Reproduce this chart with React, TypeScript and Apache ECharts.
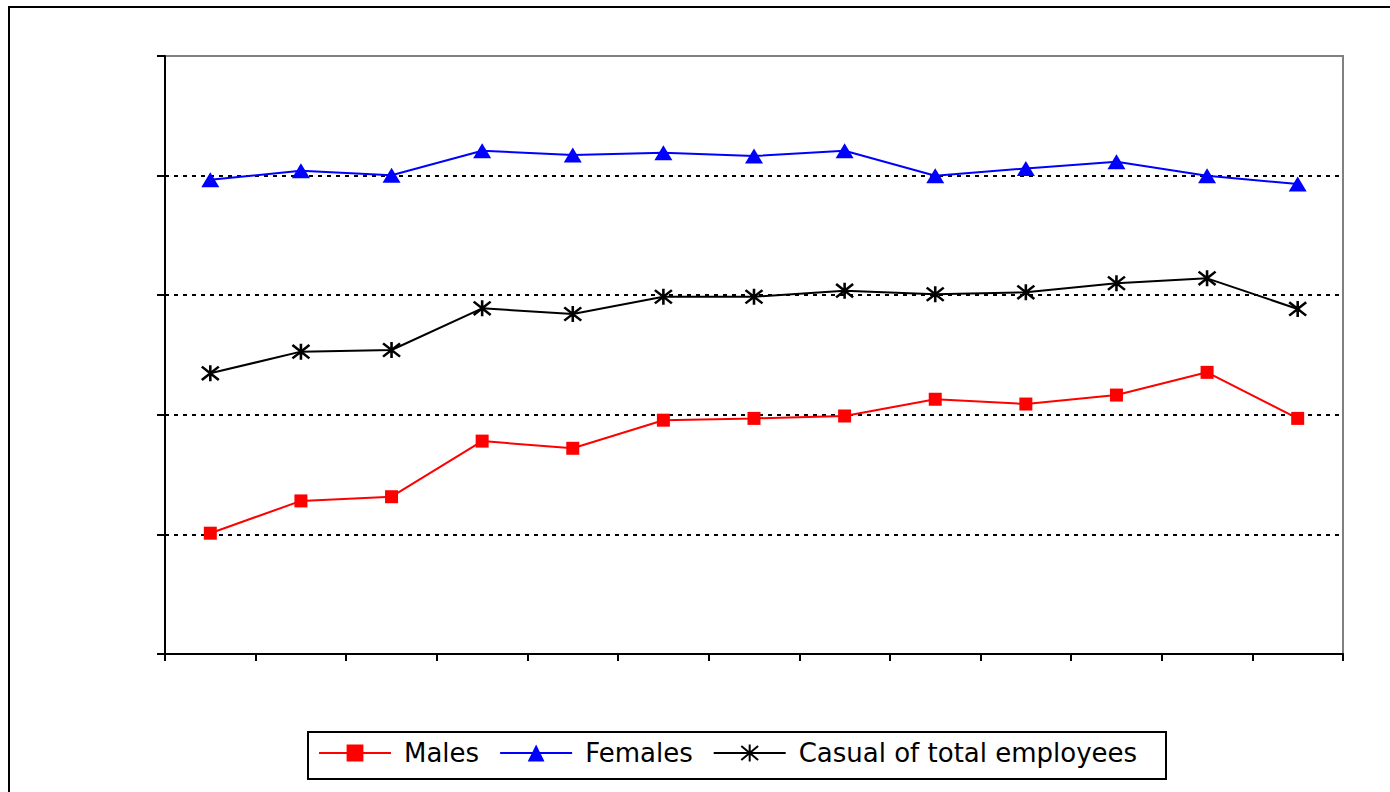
import React, { useEffect, useRef } from "react";
import * as echarts from "echarts";

const categories = ["1", "2", "3", "4", "5", "6", "7", "8", "9", "10", "11", "12", "13"];
const males = [10.1, 12.8, 13.15, 17.8, 17.2, 19.55, 19.7, 19.9, 21.3, 20.9, 21.65, 23.55, 19.7];
const females = [39.65, 40.4, 40.03, 42.08, 41.72, 41.92, 41.64, 42.08, 39.99, 40.6, 41.16, 39.99, 39.3];
const casual = [23.47, 25.28, 25.42, 28.9, 28.43, 29.87, 29.87, 30.38, 30.08, 30.24, 31.0, 31.41, 28.85];
const seriesNames = ["Males", "Females", "Casual of total employees"];

const asterisk = "path://M0,1L12,11M12,1L0,11M6,0L6,12";

export default function App() {
  const ref = useRef<HTMLDivElement>(null);
  useEffect(() => {
    if (!ref.current) return;
    const chart = echarts.init(ref.current, null, { renderer: "svg" });
    const font = "'DejaVu Sans', sans-serif";
    chart.setOption({
      animation: false,
      backgroundColor: "#ffffff",
      grid: {
        left: 165,
        right: 47,
        top: 56,
        height: 598,
        show: true,
        z: 0,
        borderColor: "#808080",
        borderWidth: 2,
        backgroundColor: "transparent",
      },
      xAxis: {
        type: "category",
        data: categories,
        boundaryGap: true,
        z: 3,
        axisLine: { lineStyle: { color: "#000", width: 2 } },
        axisTick: { show: true, length: 7, inside: false, alignWithLabel: false, lineStyle: { color: "#000", width: 2 } },
        axisLabel: { show: false },
        splitLine: { show: false },
      },
      yAxis: {
        type: "value",
        min: 0,
        max: 50,
        interval: 10,
        z: 3,
        axisLine: { show: true, lineStyle: { color: "#000", width: 2 } },
        axisTick: { show: true, length: 8, lineStyle: { color: "#000", width: 2 } },
        axisLabel: { show: false },
        splitLine: {
          show: true,
          lineStyle: {
            color: ["#000", "#000", "#000", "#000", "#000", "rgba(0,0,0,0)"],
            width: 2,
            type: [4, 5],
          },
        },
      },
      legend: {
        left: 318,
        top: 740,
        itemWidth: 72,
        itemHeight: 21,
        itemGap: 20,
        padding: 0,
        textStyle: { fontFamily: font, fontSize: 26, color: "#000", padding: [0, 0, 0, 8] },
        data: seriesNames,
      },
      graphic: [
        {
          type: "rect",
          shape: { x: 9, y: 7, width: 1400, height: 820 },
          style: { fill: "none", stroke: "#000", lineWidth: 2 },
          z: 100,
        },
        {
          type: "rect",
          shape: { x: 308, y: 732, width: 858, height: 47 },
          style: { fill: "none", stroke: "#000", lineWidth: 2 },
          z: 100,
        },
      ],
      series: [
        {
          name: seriesNames[0],
          type: "line",
          data: males,
          symbol: "rect",
          symbolSize: 13,
          z: 4,
          lineStyle: { color: "#ff0000", width: 2 },
          itemStyle: { color: "#ff0000" },
        },
        {
          name: seriesNames[1],
          type: "line",
          data: females,
          symbol: "triangle",
          symbolSize: [18, 15],
          z: 4,
          lineStyle: { color: "#0000ff", width: 2 },
          itemStyle: { color: "#0000ff" },
        },
        {
          name: seriesNames[2],
          type: "line",
          data: casual,
          symbol: asterisk,
          symbolSize: [17, 16],
          z: 4,
          lineStyle: { color: "#000", width: 2 },
          itemStyle: { color: "rgba(255,255,255,0)", borderColor: "#000", borderWidth: 2.5 },
        },
      ],
    });
    return () => chart.dispose();
  }, []);
  return (
    <div
      ref={ref}
      style={{ position: "fixed", left: 0, top: 0, width: 1390, height: 792, background: "#fff" }}
    />
  );
}
